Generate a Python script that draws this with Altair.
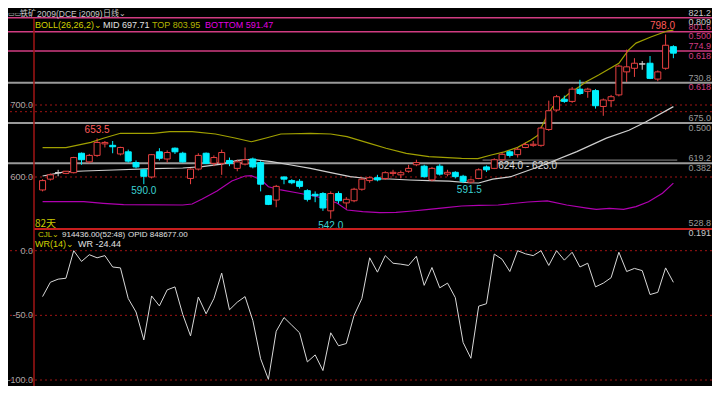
import altair as alt
import pandas as pd

# ---------------- data ----------------
opens = [582, 597, 606, 605, 606, 633, 621, 630, 646, 644, 632, 635, 620, 610, 600, 635, 625, 640, 633, 598,
         611, 633, 619, 619, 623, 612, 618, 625, 620, 574, 568, 600, 595, 594, 581, 576, 577, 553, 577, 564,
         567, 583, 595, 599, 598, 605, 603, 608, 617, 615, 596, 615, 604, 606.5, 601, 593, 598, 614, 612, 624,
         635, 631, 641, 644, 644, 666, 693, 708, 705, 722, 719, 720, 698, 706, 714, 746, 751, 757, 758, 736,
         751, 781]
highs = [597, 605, 610, 608, 628, 634, 632, 653.5, 650, 650, 642, 638, 623, 611, 632, 640, 637, 641, 635, 612,
         633, 634, 630, 638, 627, 624, 641, 627, 622, 575, 589, 601, 597, 597, 583, 580, 579, 580, 580, 572,
         585, 599, 601, 603, 608, 610, 609, 617, 624, 617, 614, 618, 610, 608, 603, 598, 612, 616, 626, 634,
         637, 641, 648, 650, 670, 706, 714, 713, 725, 735, 724, 722, 709, 714, 756, 777, 765, 761, 768, 748,
         798, 783]
lows = [580, 595, 601, 604, 605, 617, 619, 628, 641, 633, 630, 620, 612, 590, 598, 623, 620, 632, 620, 590,
        609, 618, 615, 603, 615, 608, 616, 612, 580, 561, 558, 590, 590, 584, 566, 565, 553, 542, 563, 556,
        565, 581, 592, 594, 596, 601, 598, 606, 615, 599, 594, 602, 601, 598, 591.5, 591, 597, 607, 611, 623,
        627, 627, 640, 642, 642, 664, 691, 703, 703, 714, 710, 695, 685, 697, 712, 732, 739, 749, 736, 733,
        749, 765]
closes = [595, 603, 606, 608, 627, 624, 630, 648, 648, 642, 641, 622, 614, 601, 631, 626, 634, 635, 621, 611,
          630, 619, 627, 634, 619, 621, 624, 614, 590, 562, 587, 597, 592, 587, 569, 574, 557, 577, 567, 569,
          583, 597, 599, 596, 606, 606.5, 606, 612, 620, 600.5, 612, 604, 606.5, 600.5, 594, 596, 610, 610, 624, 631.5,
          630, 638.5, 645, 645.5, 668, 692, 711.5, 705, 722, 716, 722, 699, 707, 711.5, 754, 753, 758, 757, 737, 746,
          783, 772]

wr_values = [-35.5, -24.4, -22, -21.3, 0, -8.3, -3.1, -5.5, -3.8, -12.6, -13.3, -37, -47.4, -69, -35, -42.7,
             -30.3, -28, -49.3, -65.9, -35.8, -48.8, -37, -17.3, -45.7, -39.8, -35.5, -54, -83.6, -99.5, -62.3,
             -51.7, -57.6, -63.5, -86, -80.6, -92.7, -63.5, -73.5, -71.8, -50, -37, -5.5, -16.6, -3.8, -9.7,
             -10.4, -11.4, -4.3, -26.8, -13, -28.7, -25.1, -36.3, -71, -83.2, -42.9, -41, -2.6, -6.6, -16.1, 0,
             -2.4, -3.8, 0, -11.4, 0, -7.3, -1.2, -12.6, -9.7, -28, -25.1, -20.9, -1.2, -16.1, -13.7, -15.4,
             -33.9, -32.2, -13.3, -24.44]

upper_x = [1, 4, 7.2, 8.8, 11, 15.2, 17.3, 20.2, 23.2, 25.7, 27.8, 29.7, 31.6, 35.4, 38, 40.1, 43, 45.1, 47.7,
           50.6, 54.8, 56.9, 58.6, 60.3, 62, 63.7, 64.6, 65.1, 65.7, 66.5, 67.6, 68.6, 69.9, 70.8, 72.4, 75,
           76.2, 77.2, 79.1, 81.2, 82]
upper_y = [640.7, 640.7, 648.2, 653.8, 660.7, 660.7, 662.9, 662.9, 659.7, 654.2, 649, 654.2, 659.7, 660.7,
           659.7, 656.1, 646.8, 639.9, 632.9, 628.2, 626, 625.5, 630.6, 635, 641.2, 651.4, 658, 670, 683.8,
           697.7, 707, 716, 725.5, 732.4, 741.7, 758, 776, 786, 794.4, 802.8, 803.95]
mid_x = [1, 3.8, 6.3, 10.1, 15.2, 19, 21.5, 24, 26, 27.8, 30.4, 32.9, 35.4, 38, 40.5, 43, 45.6, 48.1, 50.6,
         53.2, 55.7, 57, 58.8, 61.1, 65.4, 69.6, 73.4, 76.3, 78.5, 82]
mid_y = [601.4, 607, 608.3, 609.7, 611.5, 612.5, 614.3, 618, 623, 624.6, 621.3, 616.7, 612, 606, 600.4, 597.6,
         597.2, 595.8, 594.9, 594.4, 592, 591.7, 597, 600.4, 617, 635.2, 654, 665, 676.8, 697.71]
lower_x = [1, 6.3, 8.8, 11.4, 19, 20.2, 21.5, 23.4, 25.3, 27, 27.8, 29.1, 30, 31.6, 33.8, 36.3, 38.8, 40.1,
           42.1, 44.3, 46.4, 48.5, 50.6, 52.8, 54.8, 57, 59.5, 63.3, 65.8, 68.3, 70.9, 72.1, 73.8, 75.6, 77.2,
           78.8, 80.6, 82]
lower_y = [565.7, 565.7, 563.5, 561.5, 561.1, 562.5, 569.4, 580.6, 594.4, 601.4, 601.8, 595.8, 586.5, 582,
           577.8, 572.6, 563.9, 554.2, 551.8, 550.4, 551, 552.8, 555.1, 557.4, 559.7, 560.7, 561.1, 565.3,
           566.7, 561.1, 556.9, 555.1, 556.5, 555.1, 558.8, 565.7, 577.4, 591.47]

grid_levels = [700, 690.7, 600]
gray_levels = [730.8, 675.0, 619.2]
pink_levels = [821.2, 801.6, 774.9]
wr_grid = [0, -50, -100]

fib_levels = [821.2, 801.6, 774.9, 730.8, 675.0, 619.2, 528.8]
fib_price_text = ["821.2", "801.6", "774.9", "730.8", "675.0", "619.2", "528.8"]
fib_ratio_text = ["0.809", "0.500", "0.618", "0.618", "0.500", "0.382", "0.191"]

left_price_ticks = [700, 600]
left_price_text = ["700.0", "600.0"]
left_wr_ticks = [0, -50, -100]
left_wr_text = ["0.0", "-50.0", "-100.0"]

# ---------------- styling ----------------
W, H = 704, 378
RED = "#e84040"
CYAN = "#00f0ff"
PINK = "#d23c82"
GRAY = "#9a9a9a"
DKRED = "#a01414"
LBL = "#c8c8c8"
FONT = "Liberation Sans"
CJK = "Noto Sans CJK SC"

XS = alt.Scale(domain=[1 - 30 / 7.9, 1 - 30 / 7.9 + W / 7.9], range=[0, W], nice=False, zero=False)
YP = alt.Scale(domain=[500, 850], range=[241, -11], nice=False, zero=False)
YW = alt.Scale(domain=[-100, 0], range=[372, 242.7], nice=False, zero=False)

n = len(opens)
kind = ["up" if c > o else ("down" if c < o else "doji") for o, c in zip(opens, closes)]
candles = pd.DataFrame({"i": list(range(1, n + 1)), "o": opens, "h": highs, "l": lows, "c": closes, "k": kind})
wr_df = pd.DataFrame({"i": list(range(1, n + 1)), "wr": wr_values})

one = pd.DataFrame({"d": [0]})


def xq(f):
    return alt.X(f, type="quantitative", scale=XS, axis=None)


def yp(f):
    return alt.Y(f, type="quantitative", scale=YP, axis=None)


def yw(f):
    return alt.Y(f, type="quantitative", scale=YW, axis=None)


layers = []

# dotted grid lines
layers.append(alt.Chart(pd.DataFrame({"v": grid_levels})).mark_rule(
    color=DKRED, strokeDash=[2, 3], strokeWidth=1).encode(y=yp("v")))
layers.append(alt.Chart(pd.DataFrame({"v": wr_grid})).mark_rule(
    color=DKRED, strokeDash=[2, 3], strokeWidth=1).encode(y=yw("v")))
# fibonacci style horizontal lines
layers.append(alt.Chart(pd.DataFrame({"v": gray_levels})).mark_rule(
    color=GRAY, strokeWidth=2).encode(y=yp("v")))
layers.append(alt.Chart(pd.DataFrame({"v": pink_levels})).mark_rule(
    color=PINK, strokeWidth=1.5).encode(y=yp("v")))
layers.append(alt.Chart(pd.DataFrame({"a": [57.5], "b": [82.5], "v": [623.5]})).mark_rule(
    color="#8a8a8a", strokeWidth=1).encode(x=xq("a"), x2="b", y=yp("v")))

# bollinger
for xs_, ys_, col in [(upper_x, upper_y, "#a0a000"), (mid_x, mid_y, "#cfcfcf"), (lower_x, lower_y, "#b000b0")]:
    layers.append(alt.Chart(pd.DataFrame({"i": xs_, "v": ys_})).mark_line(
        color=col, strokeWidth=1.2).encode(x=xq("i"), y=yp("v")))

stroke_scale = alt.Scale(domain=["up", "down", "doji"], range=[RED, CYAN, "#d0d0d0"])
fill_scale = alt.Scale(domain=["up", "down", "doji"], range=["#000000", CYAN, "#d0d0d0"])

layers.append(alt.Chart(candles).mark_rule(strokeWidth=1).encode(
    x=xq("i"), y=yp("l"), y2="h", color=alt.Color("k:N", scale=stroke_scale, legend=None)))
layers.append(alt.Chart(candles).mark_bar(size=6, strokeWidth=1, orient="vertical").encode(
    x=xq("i"), y=yp("o"), y2="c",
    fill=alt.Fill("k:N", scale=fill_scale, legend=None),
    stroke=alt.Stroke("k:N", scale=stroke_scale, legend=None)))

# price annotations
ann = pd.DataFrame({
    "i": [8, 14, 38, 55.8, 80.6],
    "p": [653.5, 590.0, 542.0, 591.5, 798.0],
    "t": ["653.5", "590.0", "542.0", "591.5", "798.0"],
    "dy": ["up", "down", "down", "down", "up"],
    "col": ["#ff5a5a", "#3cd2d2", "#3cd2d2", "#3cd2d2", "#ff5a5a"],
})
layers.append(alt.Chart(ann[ann.dy == "up"]).mark_text(fontSize=10, font=FONT, dy=-8).encode(
    x=xq("i"), y=yp("p"), text="t:N", color=alt.Color("col:N", scale=None)))
layers.append(alt.Chart(ann[ann.dy == "down"]).mark_text(fontSize=10, font=FONT, dy=7).encode(
    x=xq("i"), y=yp("p"), text="t:N", color=alt.Color("col:N", scale=None)))
layers.append(alt.Chart(pd.DataFrame({"i": [59.5], "p": [623.5], "t": ["624.0 - 623.0"]})).mark_text(
    fontSize=10, font=FONT, dy=6, align="left", color="#d8d8d8").encode(x=xq("i"), y=yp("p"), text="t:N"))

# WR line
layers.append(alt.Chart(wr_df).mark_line(color="#d8d8d8", strokeWidth=1).encode(x=xq("i"), y=yw("wr")))

# frame lines
layers.append(alt.Chart(one).mark_rule(color="#c81e1e", strokeWidth=2).encode(
    x=alt.value(26), x2=alt.value(W), y=alt.value(221)))
layers.append(alt.Chart(one).mark_rule(color=DKRED, strokeWidth=1.5).encode(
    x=alt.value(26), y=alt.value(10), y2=alt.value(H)))

# right labels
rp_col = [LBL, PINK, PINK, GRAY, GRAY, GRAY, GRAY]
rr_col = [LBL, PINK, PINK, PINK, GRAY, GRAY, LBL]
layers.append(alt.Chart(pd.DataFrame({"v": fib_levels, "t": fib_price_text, "c": rp_col})).mark_text(
    align="right", baseline="middle", dy=-5, fontSize=9, font=FONT).encode(
    x=alt.value(703), y=yp("v"), text="t:N", color=alt.Color("c:N", scale=None)))
layers.append(alt.Chart(pd.DataFrame({"v": fib_levels, "t": fib_ratio_text, "c": rr_col})).mark_text(
    align="right", baseline="middle", dy=4.5, fontSize=9, font=FONT).encode(
    x=alt.value(703), y=yp("v"), text="t:N", color=alt.Color("c:N", scale=None)))

# left labels
layers.append(alt.Chart(pd.DataFrame({"v": left_price_ticks, "t": left_price_text})).mark_text(
    align="right", baseline="middle", fontSize=9, font=FONT, color="#a8a8a8").encode(
    x=alt.value(25), y=yp("v"), text="t:N"))
layers.append(alt.Chart(pd.DataFrame({"v": left_wr_ticks, "t": left_wr_text})).mark_text(
    align="right", baseline="middle", fontSize=9, font=FONT, color="#a8a8a8").encode(
    x=alt.value(25), y=yw("v"), text="t:N"))

# header / legends
def label(txt, px, py, col, size=9, font=FONT, base="middle"):
    return alt.Chart(one).mark_text(text=txt, align="left", baseline=base, fontSize=size,
                                    font=font, color=col).encode(x=alt.value(px), y=alt.value(py))


layers += [
    label("▭▭", 0, 5.5, LBL, 7, "DejaVu Sans"),
    label("铁矿", 12, 5.5, LBL, 8, CJK),
    label("2009(DCE i2009)", 29, 5.5, LBL, 8.5, FONT),
    label("日线⌄", 95, 5.5, LBL, 8, CJK),
    label("BOLL(26,26,2)⌄", 27, 17, "#d2d200"),
    label("MID 697.71", 95, 17, "#e0e0e0"),
    label("TOP 803.95", 144, 17, "#b4b400"),
    label("BOTTOM 591.47", 197, 17, "#e000e0"),
    label("82天", 27, 216, "#c8c800", 10, CJK),
    label("CJL⌄", 30, 226.5, "#c8c800", 8),
    label("914436.00(52:48)", 54, 226.5, "#e0e0e0", 8),
    label("OPID 848677.00", 120, 226.5, "#e0e0e0", 8),
    label("WR(14)⌄", 27, 236, "#d2d200"),
    label("WR -24.44", 70, 236, "#e0e0e0"),
]

chart = alt.layer(*layers).resolve_scale(y="independent").properties(
    width=W, height=H, autosize=alt.AutoSizeParams(type="none"), padding=0,
    background="#000000",
).configure_view(stroke=None)

chart.save("out.html", embed_options={"renderer": "svg", "actions": False})
